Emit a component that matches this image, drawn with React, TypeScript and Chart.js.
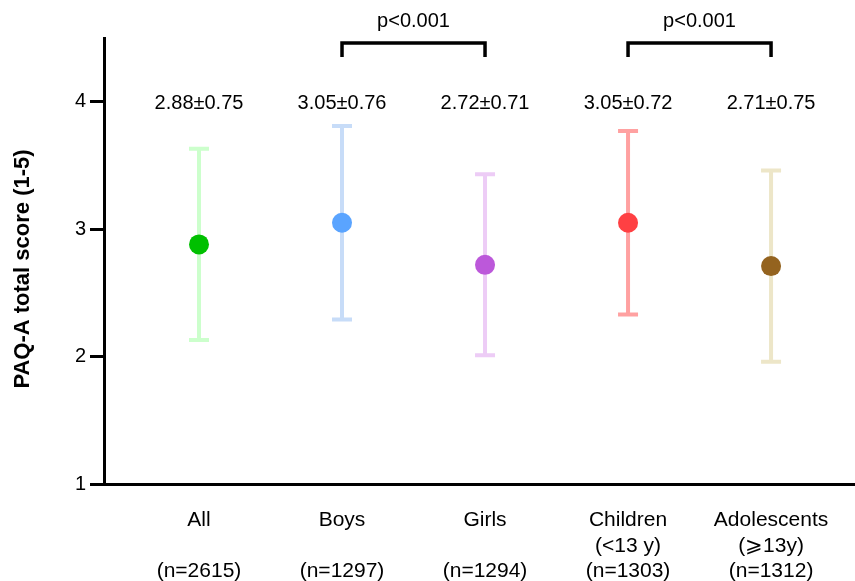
import React, { useEffect, useRef } from 'react';
import { Chart, registerables } from 'chart.js';

Chart.register(...registerables);

const categories = ['All', 'Boys', 'Girls', 'Children', 'Adolescents'];
const subLabels = ['', '', '', '(<13 y)', '(\u2A7E13y)'];
const sampleLabels = ['(n=2615)', '(n=1297)', '(n=1294)', '(n=1303)', '(n=1312)'];
const means = [2.88, 3.05, 2.72, 3.05, 2.71];
const sds = [0.75, 0.76, 0.71, 0.72, 0.75];
const pointColors = ['#00C000', '#5AA4FF', '#BC58DA', '#FF4043', '#94631F'];
const barColors = ['#CCFFCC', '#C7DCF8', '#EDCCF6', '#FFA1A1', '#EDE6C8'];
const yTicks = [1, 2, 3, 4];
const comparisons = [
  { a: 1, b: 2, label: 'p<0.001' },
  { a: 3, b: 4, label: 'p<0.001' },
];
const yTitle = 'PAQ-A total score (1-5)';

const FONT = '"Liberation Sans", Arial, Helvetica, sans-serif';

const annotPlugin = {
  id: 'annot',
  beforeDatasetsDraw(chart: any) {
    const { ctx, scales } = chart;
    const x = scales.x;
    const y = scales.y;
    ctx.save();
    means.forEach((m, i) => {
      const px = x.getPixelForValue(i + 1);
      const top = y.getPixelForValue(m + sds[i]);
      const bot = y.getPixelForValue(m - sds[i]);
      ctx.strokeStyle = barColors[i];
      ctx.lineWidth = 4;
      ctx.lineCap = 'butt';
      ctx.beginPath();
      ctx.moveTo(px, top - 2);
      ctx.lineTo(px, bot + 2);
      ctx.moveTo(px - 10, top);
      ctx.lineTo(px + 10, top);
      ctx.moveTo(px - 10, bot);
      ctx.lineTo(px + 10, bot);
      ctx.stroke();
    });
    ctx.restore();
  },
  afterDraw(chart: any) {
    const { ctx, scales, chartArea } = chart;
    const x = scales.x;
    const y = scales.y;
    ctx.save();
    ctx.fillStyle = '#000';
    ctx.font = `20px ${FONT}`;
    ctx.textAlign = 'center';
    ctx.textBaseline = 'middle';
    means.forEach((m, i) => {
      const px = x.getPixelForValue(i + 1);
      ctx.fillText(`${m.toFixed(2)}\u00B1${sds[i].toFixed(2)}`, px, y.getPixelForValue(4) + 2);
    });
    // brackets
    const top = chartArea.top;
    comparisons.forEach((c) => {
      const x1 = x.getPixelForValue(c.a + 1);
      const x2 = x.getPixelForValue(c.b + 1);
      ctx.strokeStyle = '#000';
      ctx.lineWidth = 3.5;
      ctx.lineCap = 'butt';
      ctx.lineJoin = 'miter';
      ctx.beginPath();
      ctx.moveTo(x1, top + 19);
      ctx.lineTo(x1, top + 5);
      ctx.lineTo(x2, top + 5);
      ctx.lineTo(x2, top + 19);
      ctx.stroke();
      ctx.fillText(c.label, (x1 + x2) / 2, top - 17);
    });
    // y title
    ctx.font = `bold 22px ${FONT}`;
    ctx.translate(23, 269);
    ctx.rotate(-Math.PI / 2);
    ctx.fillText(yTitle, 0, 0);
    ctx.restore();
  },
};

export default function App() {
  const ref = useRef<HTMLCanvasElement | null>(null);
  useEffect(() => {
    if (!ref.current) return;
    const chart = new Chart(ref.current, {
      type: 'scatter',
      data: {
        datasets: [
          {
            data: means.map((m, i) => ({ x: i + 1, y: m })),
            pointRadius: 10,
            pointHoverRadius: 10,
            pointBackgroundColor: pointColors,
            pointBorderWidth: 0,
            pointBorderColor: pointColors,
            showLine: false,
          },
        ],
      },
      options: {
        responsive: false,
        animation: false,
        layout: { autoPadding: false, padding: { top: 38, right: 0, left: 0, bottom: 0 } },
        plugins: { legend: { display: false }, tooltip: { enabled: false } },
        scales: {
          x: {
            type: 'linear',
            min: 0.3357,
            max: 5.587,
            afterBuildTicks: (s: any) => {
              s.ticks = categories.map((_, i) => ({ value: i + 1 }));
            },
            afterFit: (s: any) => {
              s.height = 97;
              s.paddingLeft = 0;
              s.paddingRight = 0;
            },
            grid: { display: false, drawTicks: false },
            border: { display: true, color: '#000', width: 3 },
            ticks: {
              autoSkip: false,
              maxRotation: 0,
              padding: 24,
              color: '#000',
              font: { size: 21, family: FONT, lineHeight: 1.2 },
              callback: (v: any) => {
                const i = Math.round(Number(v)) - 1;
                return [categories[i], subLabels[i], sampleLabels[i]];
              },
            },
          },
          y: {
            type: 'linear',
            min: 1,
            max: 4.5,
            afterBuildTicks: (s: any) => {
              s.ticks = yTicks.map((v) => ({ value: v }));
            },
            afterFit: (s: any) => {
              s.width = 104;
              s.paddingTop = 0;
              s.paddingBottom = 0;
            },
            grid: {
              display: true,
              drawOnChartArea: false,
              drawTicks: true,
              tickLength: 14,
              color: '#000',
              lineWidth: 3,
            },
            border: { display: true, color: '#000', width: 3 },
            ticks: {
              padding: 4,
              color: '#000',
              font: { size: 20, family: FONT },
            },
          },
        },
      },
      plugins: [annotPlugin],
    } as any);
    return () => chart.destroy();
  }, []);
  return (
    <canvas
      ref={ref}
      width={855}
      height={581}
      style={{ position: 'absolute', left: 0, top: 0, width: 855, height: 581 }}
    />
  );
}
